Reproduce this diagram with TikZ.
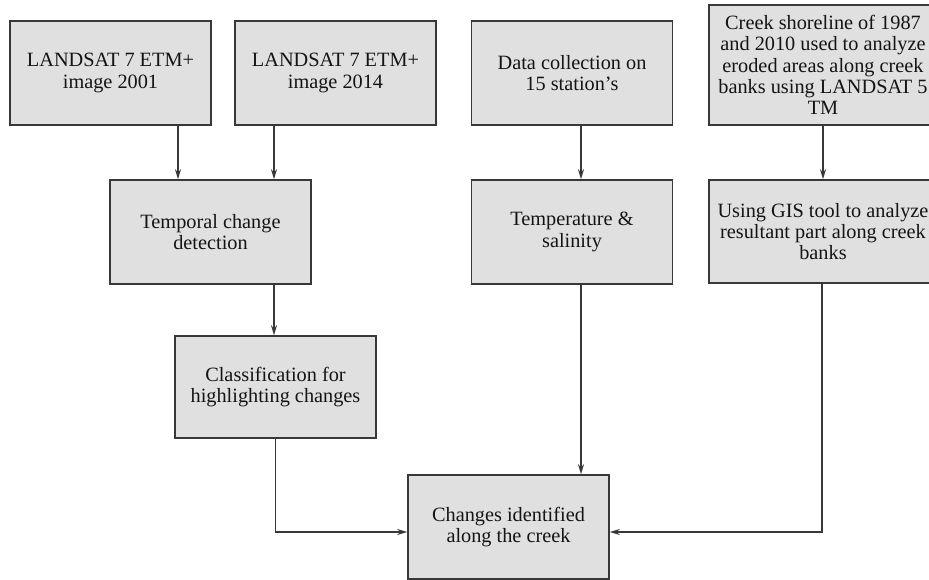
\documentclass[tikz,border=0pt]{standalone}
\usepackage{fontspec}
\setmainfont{Liberation Serif}
\usetikzlibrary{arrows.meta}
\definecolor{boxfill}{HTML}{E0E0E0}
\definecolor{boxline}{HTML}{383838}
\tikzset{
    box/.style={rectangle, draw=boxline, fill=boxfill, line width=1.6pt,
    	minimum width=201pt, minimum height=104pt, inner sep=0pt, align=center,
    	text=black!92, font=\fontsize{20.3pt}{21.3pt}\selectfont}
}
\tikzset{
    arr/.style={draw=boxline, line width=1.4pt, -{Stealth[length=10pt,width=6pt]}}
}

\begin{document}
\begin{tikzpicture}[x=1pt, y=-1pt]
  \useasboundingbox (0,0) rectangle (929,580);

  \node (img01) [box] at (110.5,73) {LANDSAT 7 ETM+\\image 2001};
  \node (img14) [box] at (335.5,73) {LANDSAT 7 ETM+\\image 2014};
  \node (data) [box] at (572,73) {Data collection on\\15 station's};
  \node (shore) [box, minimum width=228pt, minimum height=120pt] at (823,65)
    {Creek shoreline of 1987\\and 2010 used to analyze\\eroded areas along creek\\banks using LANDSAT 5\\TM};
  \node (temporal) [box] at (210.5,232) {Temporal change\\detection};
  \node (temp) [box] at (572,232) {Temperature \&\\salinity};
  \node (gis) [box, minimum width=228pt, minimum height=103pt] at (823,231.5)
    {Using GIS tool to analyze\\resultant part along creek\\banks};
  \node (classif) [box, minimum height=102pt] at (275.5,387) {Classification for\\highlighting changes};
  \node (result) [box] at (508.5,527) {Changes identified\\along the creek};

  \draw[arr] ([xshift=67.5pt]img01.south) -- ([xshift=67.5pt]img01.south |- temporal.north);
  \draw[arr] ([xshift=-61.5pt]img14.south) -- ([xshift=-61.5pt]img14.south |- temporal.north);
  \draw[arr] ([xshift=63.5pt]temporal.south) -- ([xshift=63.5pt]temporal.south |- classif.north);
  \draw[arr] ([xshift=9pt]data.south) -- ([xshift=9pt]temp.north);
  \draw[arr] (shore.south) -- (gis.north);
  \draw[arr] ([xshift=9pt]temp.south) -- ([xshift=9pt]temp.south |- result.north);
  \draw[arr] (classif.south) |- ([yshift=-5pt]result.west);
  \draw[arr] ([xshift=-1pt]gis.south) |- ([yshift=-5pt]result.east);

\end{tikzpicture}
\end{document}
